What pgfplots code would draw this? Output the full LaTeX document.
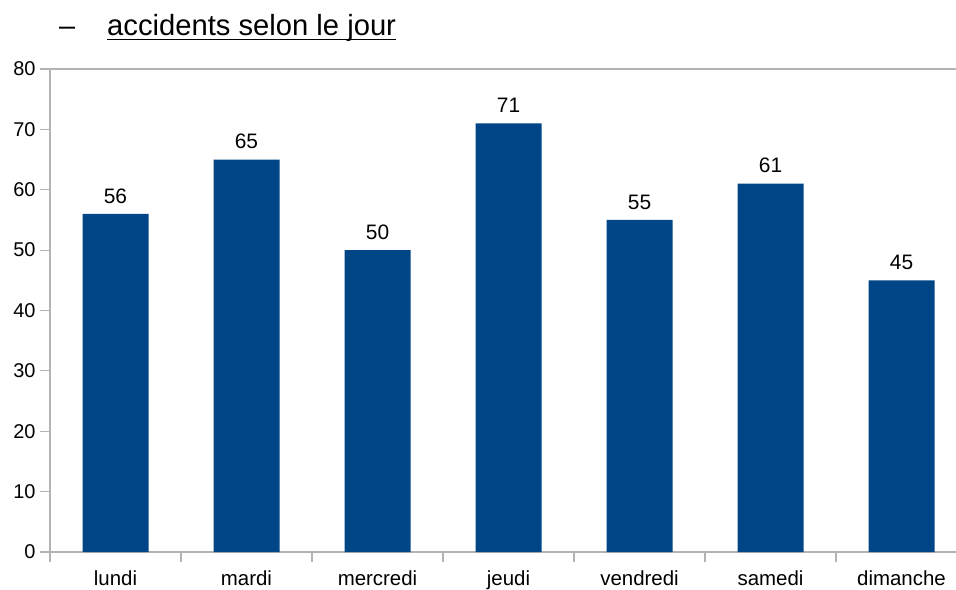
\documentclass[border=0pt]{standalone}
\usepackage{fontspec}
\setmainfont{Liberation Sans}
\usepackage{pgfplots}
\pgfplotsset{compat=1.18}
\definecolor{barblue}{HTML}{004586}
\definecolor{axgray}{HTML}{B3B3B3}
\begin{document}
\begin{tikzpicture}
\path[use as bounding box] (-50bp,-38bp) rectangle (906bp,552bp);
\begin{axis}[
  at={(0,0)}, anchor=south west,
  scale only axis, width=906bp, height=483bp,
  xmin=-0.5, xmax=6.416, ymin=0, ymax=80,
  axis x line*=bottom, axis y line*=left,
  axis line style={axgray, line width=1.2bp, -},
  ytick={0,10,...,80},
  xtick={0,...,6},
  xticklabels={lundi,mardi,mercredi,jeudi,vendredi,samedi,dimanche},
  minor xtick={-0.5,0.5,...,5.5},
  tick align=outside,
  major tick length=10bp, minor tick length=10bp,
  major x tick style={draw=none},
  minor x tick style={axgray, line width=1.2bp},
  y tick style={axgray, line width=1.2bp},
  /pgf/number format/assume math mode=true,
  yticklabel style={font=\fontsize{20}{20}\selectfont, black, xshift=-1bp},
  xticklabel style={font=\fontsize{20.5}{20.5}\selectfont, black, text height=0.75em, text depth=0.2em, yshift=-13bp},
  extra y ticks={80}, extra y tick labels={},
  extra y tick style={grid=major, major grid style={axgray, line width=1.2bp}},
  clip=false,
]
\addplot[ybar, bar width=66bp, fill=barblue, draw=none,
  nodes near coords,
  every node near coord/.append style={font=\fontsize{21}{21}\selectfont, black, yshift=7bp}]
  coordinates {(0,56) (1,65) (2,50) (3,71) (4,55) (5,61) (6,45)};
\end{axis}
\node[anchor=base west, inner sep=0pt, font=\fontsize{29}{29}\selectfont] at (9bp,516bp) {–};
\node[anchor=base west, inner sep=0pt, font=\fontsize{29.3}{29.3}\selectfont] at (57bp,516bp)
  {\setbox0\hbox{accidents selon le jour}\rlap{\rule[-4bp]{\wd0}{1.3bp}}\box0};
\end{tikzpicture}
\end{document}
